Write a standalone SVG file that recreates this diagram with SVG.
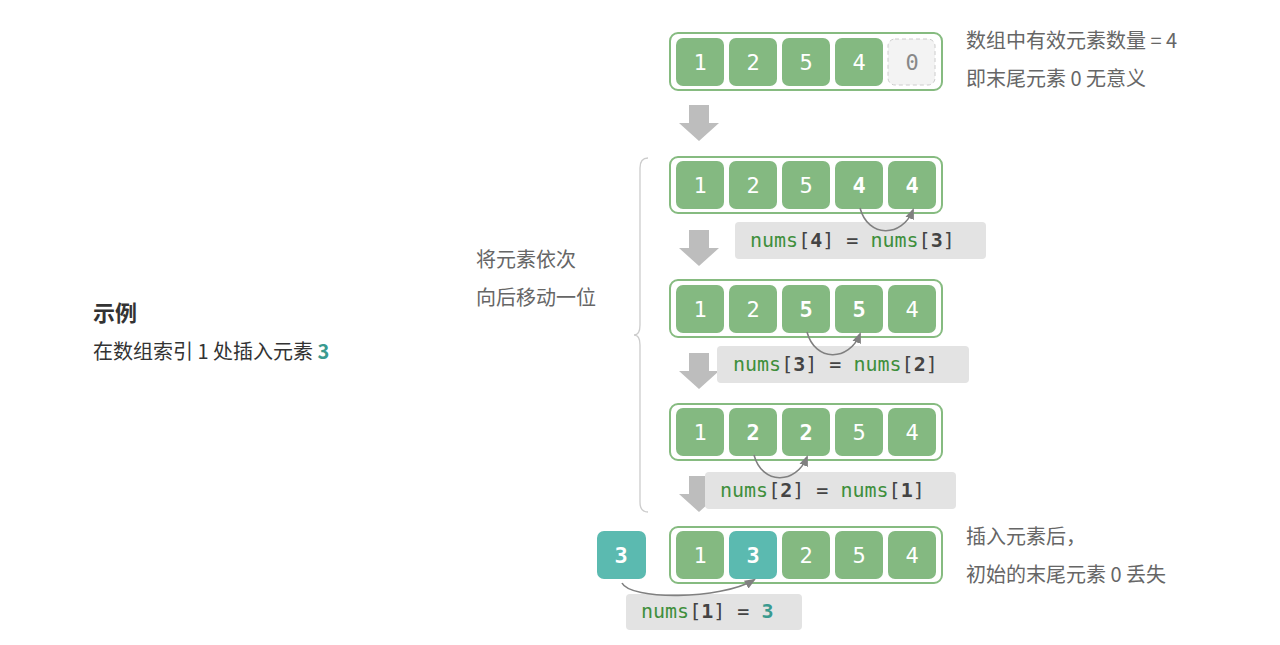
<svg xmlns="http://www.w3.org/2000/svg" width="1280" height="645" viewBox="0 0 1280 645">
<defs>
<style>
.box{fill:#fff;stroke:#86bb80;stroke-width:2}
.c{fill:#84b981}
.t{fill:#5bbab0}
.ct{font-family:"DejaVu Sans Mono",monospace;font-size:22px;fill:#fff;text-anchor:middle}
.b{font-weight:bold}
.lbl{fill:#e3e3e3}
.code{font-family:"DejaVu Sans Mono",monospace;font-size:20px;fill:#444}
.g{fill:#3f8f3c}
.txt{font-family:"Noto Sans CJK SC",sans-serif;font-size:20px;fill:#666}
.arr{fill:#bdbdbd}
.cv{fill:none;stroke:#808080;stroke-width:1.6}
</style>
<marker id="m" viewBox="0 0 10 10" refX="8" refY="5" markerWidth="7" markerHeight="7" orient="auto"><path d="M0,1 L10,5 L0,9z" fill="#808080"/></marker>
</defs>
<rect width="1280" height="645" fill="#fff"/>
<g id="left">
<text x="93" y="321" font-family="Noto Sans CJK SC,sans-serif" font-size="22" font-weight="bold" fill="#333">示例</text>
<text x="93" y="359" font-family="Noto Sans CJK SC,sans-serif" font-size="20" fill="#333">在数组索引 1 处插入元素 <tspan fill="#3a9a8f" font-weight="bold">3</tspan></text>
</g>
<g id="brace"><path d="M648,158 Q640,158 640,168 L640,325 Q640,335 634,335 Q640,335 640,345 L640,502 Q640,512 648,512" fill="none" stroke="#ccc" stroke-width="1.3"/>
<text class="txt" x="476" y="267">将元素依次</text><text class="txt" x="476" y="305">向后移动一位</text></g>
<g id="row0">
<rect class="box" x="670" y="33" width="272" height="57" rx="8"/>
<rect class="c" x="676" y="38" width="48" height="48" rx="7"/><rect class="c" x="729" y="38" width="48" height="48" rx="7"/><rect class="c" x="782" y="38" width="48" height="48" rx="7"/><rect class="c" x="835" y="38" width="48" height="48" rx="7"/>
<rect x="888" y="39" width="47" height="46" rx="7" fill="#f3f3f3" stroke="#ccc" stroke-dasharray="4 3"/>
<text class="ct" x="700" y="70">1</text><text class="ct" x="753" y="70">2</text><text class="ct" x="806" y="70">5</text><text class="ct" x="859" y="70">4</text><text class="ct" x="912" y="70" fill="#888" style="fill:#888">0</text>
<text class="txt" x="966" y="48">数组中有效元素数量 = 4</text><text class="txt" x="966" y="86">即末尾元素 0 无意义</text>
</g>
<g id="row1">
<rect class="box" x="670" y="157" width="272" height="56" rx="8"/>
<rect class="c" x="676" y="161" width="48" height="48" rx="7"/><rect class="c" x="729" y="161" width="48" height="48" rx="7"/><rect class="c" x="782" y="161" width="48" height="48" rx="7"/><rect class="c" x="835" y="161" width="48" height="48" rx="7"/><rect class="c" x="888" y="161" width="48" height="48" rx="7"/>
<text class="ct" x="700" y="193">1</text><text class="ct" x="753" y="193">2</text><text class="ct" x="806" y="193">5</text><text class="ct b" x="859" y="193">4</text><text class="ct b" x="912" y="193">4</text>
</g>
<g id="row2">
<rect class="box" x="670" y="280" width="272" height="57" rx="8"/>
<rect class="c" x="676" y="285" width="48" height="48" rx="7"/><rect class="c" x="729" y="285" width="48" height="48" rx="7"/><rect class="c" x="782" y="285" width="48" height="48" rx="7"/><rect class="c" x="835" y="285" width="48" height="48" rx="7"/><rect class="c" x="888" y="285" width="48" height="48" rx="7"/>
<text class="ct" x="700" y="317">1</text><text class="ct" x="753" y="317">2</text><text class="ct b" x="806" y="317">5</text><text class="ct b" x="859" y="317">5</text><text class="ct" x="912" y="317">4</text>
</g>
<g id="row3">
<rect class="box" x="670" y="404" width="272" height="56" rx="8"/>
<rect class="c" x="676" y="408" width="48" height="48" rx="7"/><rect class="c" x="729" y="408" width="48" height="48" rx="7"/><rect class="c" x="782" y="408" width="48" height="48" rx="7"/><rect class="c" x="835" y="408" width="48" height="48" rx="7"/><rect class="c" x="888" y="408" width="48" height="48" rx="7"/>
<text class="ct" x="700" y="440">1</text><text class="ct b" x="753" y="440">2</text><text class="ct b" x="806" y="440">2</text><text class="ct" x="859" y="440">5</text><text class="ct" x="912" y="440">4</text>
</g>
<g id="row4">
<rect class="t" x="597" y="531" width="49" height="48" rx="7"/><text class="ct b" x="621" y="563">3</text>
<rect class="box" x="670" y="527" width="272" height="56" rx="8"/>
<rect class="c" x="676" y="531" width="48" height="48" rx="7"/><rect class="t" x="729" y="531" width="48" height="48" rx="7"/><rect class="c" x="782" y="531" width="48" height="48" rx="7"/><rect class="c" x="835" y="531" width="48" height="48" rx="7"/><rect class="c" x="888" y="531" width="48" height="48" rx="7"/>
<text class="ct" x="700" y="563">1</text><text class="ct b" x="753" y="563">3</text><text class="ct" x="806" y="563">2</text><text class="ct" x="859" y="563">5</text><text class="ct" x="912" y="563">4</text>
<text class="txt" x="966" y="544">插入元素后，</text><text class="txt" x="966" y="582">初始的末尾元素 0 丢失</text>
</g>
<g id="connectors">
<path class="arr" d="M689,105h20v18h10l-20,18l-20,-18h10z"/>
<path class="arr" d="M689,230h20v18h10l-20,18l-20,-18h10z"/>
<path class="arr" d="M689,353h20v18h10l-20,18l-20,-18h10z"/>
<path class="arr" d="M689,476h20v18h10l-20,18l-20,-18h10z"/>
<rect class="lbl" x="735" y="222" width="251" height="37" rx="4"/>
<text class="code" x="750" y="247"><tspan class="g">nums</tspan>[<tspan class="b">4</tspan>] = <tspan class="g">nums</tspan>[<tspan class="b">3</tspan>]</text>
<rect class="lbl" x="717" y="346" width="252" height="37" rx="4"/>
<text class="code" x="733" y="371"><tspan class="g">nums</tspan>[<tspan class="b">3</tspan>] = <tspan class="g">nums</tspan>[<tspan class="b">2</tspan>]</text>
<rect class="lbl" x="705" y="472" width="251" height="37" rx="4"/>
<text class="code" x="720" y="497"><tspan class="g">nums</tspan>[<tspan class="b">2</tspan>] = <tspan class="g">nums</tspan>[<tspan class="b">1</tspan>]</text>
<rect class="lbl" x="626" y="594" width="176" height="36" rx="4"/>
<text class="code" x="641" y="618"><tspan class="g">nums</tspan>[<tspan class="b">1</tspan>] = <tspan fill="#3a9a8f" font-weight="bold">3</tspan></text>
<path class="cv" marker-end="url(#m)" d="M860,208 C868,238 902,238 913,210"/>
<path class="cv" marker-end="url(#m)" d="M807,332 C815,362 849,362 860,334"/>
<path class="cv" marker-end="url(#m)" d="M754,455 C762,485 796,485 807,457"/>
<path class="cv" marker-end="url(#m)" d="M622,583 C630,600 720,600 754,580"/>
</g>
</svg>
